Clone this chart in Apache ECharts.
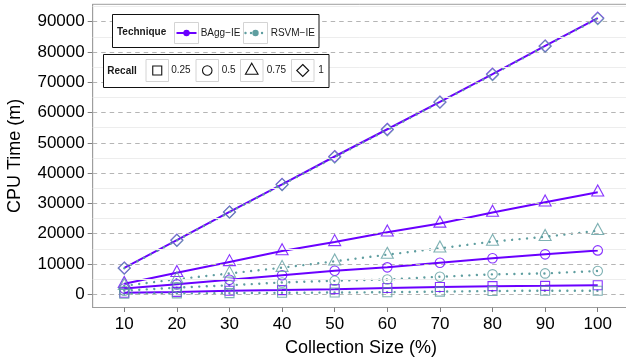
<!DOCTYPE html>
<html>
<head>
<meta charset="utf-8">
<script src="https://cdn.jsdelivr.net/npm/echarts@6/dist/echarts.min.js"></script>
<style>
  html, body { margin: 0; padding: 0; background: #ffffff; }
  #chart { width: 626px; height: 363px; }
</style>
</head>
<body>
<div id="chart"></div>
<script>
// Collection size (%) on x, CPU time (minutes) on y
const collectionSize = [10, 20, 30, 40, 50, 60, 70, 80, 90, 100];
const yTickValues = [0, 10000, 20000, 30000, 40000, 50000, 60000, 70000, 80000, 90000];
const minorGridValues = [5000, 15000, 25000, 35000, 45000, 55000, 65000, 75000, 85000, 95000];

// BAgg-IE CPU time per recall level
const baggRecall025 = [500, 800, 1200, 1400, 1700, 2100, 2400, 2700, 2800, 3000];
const baggRecall05  = [1900, 3300, 4800, 6300, 7800, 8900, 10400, 11900, 13200, 14500];
const baggRecall075 = [3500, 7100, 10700, 14300, 17300, 20500, 23400, 27000, 30400, 33700];
const baggRecall1   = [8700, 17900, 27200, 36300, 45500, 54500, 63500, 72700, 82000, 91200];

// RSVM-IE CPU time per recall level
const rsvmRecall025 = [200, 300, 400, 500, 600, 700, 900, 1100, 1200, 1200];
const rsvmRecall05  = [1200, 2200, 3000, 3900, 4500, 4900, 5800, 6600, 6900, 7700];
const rsvmRecall075 = [2800, 5000, 6900, 8800, 10900, 13100, 15200, 17400, 19000, 21000];
const rsvmRecall1   = [8600, 17800, 27100, 36200, 45300, 54300, 63400, 72500, 81900, 91000];

const techniques = ['BAgg\u2212IE', 'RSVM\u2212IE'];
const recallLevels = ['0.25', '0.5', '0.75', '1'];

const valuesByTechnique = [
  [baggRecall025, baggRecall05, baggRecall075, baggRecall1],
  [rsvmRecall025, rsvmRecall05, rsvmRecall075, rsvmRecall1]
];

const FONT = '"Liberation Sans", Arial, Helvetica, sans-serif';
const AXIS_GRAY = '#9e9e9e';

const techniqueStyles = [
  { color: '#6a00ff', width: 2, type: 'solid', cap: 'butt' },
  { color: '#5f9ea0', width: 2.4, type: [0.01, 7.5], cap: 'round' }
];
const recallSymbols = [
  { symbol: 'rect', size: 9, offset: [0, 0] },
  { symbol: 'circle', size: 9.5, offset: [0, 0] },
  { symbol: 'triangle', size: [12, 11], offset: [0, -1.8] },
  { symbol: 'diamond', size: 12, offset: [0, 0] }
];

const series = [];

// gridlines: dashed majors at the tick values, faint solid minors between them,
// carried by an invisible line series spanning the x range
series.push({
  name: 'grid',
  type: 'line',
  data: collectionSize.map(x => [x, 0]),
  showSymbol: false,
  silent: true,
  z: 1,
  lineStyle: { opacity: 0 },
  markLine: {
    silent: true,
    symbol: 'none',
    label: { show: false },
    animation: false,
    data: minorGridValues.map(v => ({ yAxis: v, lineStyle: { color: '#ededed', width: 1, type: 'solid' } }))
      .concat(yTickValues.map(v => ({ yAxis: v, lineStyle: { color: '#b5b5b5', width: 1, type: [4.5, 4] } })))
  },
  animation: false
});

techniques.forEach((tech, ti) => {
  recallLevels.forEach((rec, ri) => {
    const pts = collectionSize.map((x, i) => [x, valuesByTechnique[ti][ri][i]]);
    const st = techniqueStyles[ti];
    series.push({
      name: tech + ' / ' + rec,
      type: 'line',
      data: pts,
      showSymbol: false,
      z: 3 + ti,
      lineStyle: { color: st.color, width: st.width, type: st.type, cap: st.cap },
      animation: false
    });
  });
});

techniques.forEach((tech, ti) => {
  recallLevels.forEach((rec, ri) => {
    const pts = collectionSize.map((x, i) => [x, valuesByTechnique[ti][ri][i]]);
    const sym = recallSymbols[ri];
    series.push({
      name: tech + ' / ' + rec + ' points',
      type: 'scatter',
      data: pts,
      symbol: sym.symbol,
      symbolSize: sym.size,
      symbolOffset: sym.offset,
      z: 6 + ti,
      itemStyle: { color: 'rgba(0,0,0,0)', borderColor: techniqueStyles[ti].color, borderWidth: 1.1 },
      animation: false
    });
  });
});

// ---- legends (two framed boxes) ----
const graphics = [];
const legendText = (text, x, y, bold) => ({
  type: 'text', x: x, y: y, z: 100,
  style: { text: text, fill: '#1a1a1a', font: (bold ? 'bold ' : '') + '10px ' + FONT, textVerticalAlign: 'middle' }
});
const keyBox = (x, y, w, h) => ({
  type: 'rect', z: 100, shape: { x: x, y: y, width: w, height: h },
  style: { fill: '#ffffff', stroke: '#d4d4d4', lineWidth: 1 }
});

// Technique box
graphics.push({ type: 'rect', z: 99, shape: { x: 112.5, y: 14.5, width: 206.5, height: 33 }, style: { fill: '#ffffff', stroke: '#111111', lineWidth: 1 } });
graphics.push(legendText('Technique', 117, 32, true));
const techKeyX = [174.5, 243.5];
const techLabelX = [200.7, 270.7];
techniques.forEach((tech, ti) => {
  const kx = techKeyX[ti], ky = 22.5, kw = 24, kh = 21;
  const st = techniqueStyles[ti];
  graphics.push(keyBox(kx, ky, kw, kh));
  graphics.push({
    type: 'line', z: 101, shape: { x1: kx + 2, y1: ky + kh / 2, x2: kx + kw - 2, y2: ky + kh / 2 },
    style: { stroke: st.color, lineWidth: st.width, lineDash: st.type === 'solid' ? null : [0.01, 5.5], lineCap: st.cap }
  });
  graphics.push({ type: 'circle', z: 102, shape: { cx: kx + kw / 2, cy: ky + kh / 2, r: 3.2 }, style: { fill: st.color } });
  graphics.push(legendText(tech, techLabelX[ti], ky + kh / 2, false));
});

// Recall box
graphics.push({ type: 'rect', z: 99, shape: { x: 103.5, y: 54.5, width: 225.5, height: 33 }, style: { fill: '#ffffff', stroke: '#111111', lineWidth: 1 } });
graphics.push(legendText('Recall', 107.3, 71, true));
const recallKeyX = [146, 196, 240.5, 291.5];
const recallLabelX = [171.2, 221.7, 266.7, 318.3];
const symStyle = { fill: 'none', stroke: '#111111', lineWidth: 1.1 };
recallLevels.forEach((rec, ri) => {
  const kx = recallKeyX[ri], ky = 59.5, kw = 22.5, kh = 22;
  const cx = kx + kw / 2, cy = ky + kh / 2;
  graphics.push(keyBox(kx, ky, kw, kh));
  let shape;
  if (ri === 0) {
    shape = { type: 'rect', z: 101, shape: { x: cx - 4.5, y: cy - 4.5, width: 9, height: 9 }, style: symStyle };
  } else if (ri === 1) {
    shape = { type: 'circle', z: 101, shape: { cx: cx, cy: cy, r: 4.75 }, style: symStyle };
  } else if (ri === 2) {
    shape = { type: 'polygon', z: 101, shape: { points: [[cx, cy - 7.3], [cx + 6.3, cy + 3.7], [cx - 6.3, cy + 3.7]] }, style: symStyle };
  } else {
    shape = { type: 'polygon', z: 101, shape: { points: [[cx, cy - 6], [cx + 6, cy], [cx, cy + 6], [cx - 6, cy]] }, style: symStyle };
  }
  graphics.push(shape);
  graphics.push(legendText(rec, recallLabelX[ri], cy, false));
});

const chart = echarts.init(document.getElementById('chart'), null, { renderer: 'canvas' });
chart.setOption({
  animation: false,
  backgroundColor: '#ffffff',
  grid: {
    left: 92.7, top: 4.3, width: 536.6, height: 303.2,
    containLabel: false,
    outerBoundsMode: 'none',
    show: true, backgroundColor: '#ffffff', borderColor: AXIS_GRAY, borderWidth: 1
  },
  xAxis: {
    type: 'value',
    min: 4, max: 106,
    name: 'Collection Size (%)',
    nameLocation: 'middle',
    nameGap: 32,
    nameTextStyle: { fontFamily: FONT, fontSize: 18, color: '#000000' },
    axisLine: { show: true, onZero: false, lineStyle: { color: AXIS_GRAY, width: 1 } },
    axisTick: { show: true, length: 4.5, customValues: collectionSize, lineStyle: { color: '#7f7f7f' } },
    axisLabel: { customValues: collectionSize, margin: 8, fontFamily: FONT, fontSize: 17, color: '#000000', formatter: v => String(v) },
    splitLine: { show: false }
  },
  yAxis: {
    type: 'value',
    min: -4350, max: 95750,
    name: 'CPU Time (m)',
    nameLocation: 'middle',
    nameRotate: 90,
    nameGap: 69,
    nameTextStyle: { fontFamily: FONT, fontSize: 18, color: '#000000' },
    axisLine: { show: true, onZero: false, lineStyle: { color: AXIS_GRAY, width: 1 } },
    axisTick: { show: true, length: 5, customValues: yTickValues, lineStyle: { color: '#7f7f7f' } },
    axisLabel: { customValues: yTickValues, margin: 8, fontFamily: FONT, fontSize: 17, color: '#000000', formatter: v => String(v) },
    splitLine: { show: false }
  },
  series: series,
  graphic: graphics
});
</script>
</body>
</html>
